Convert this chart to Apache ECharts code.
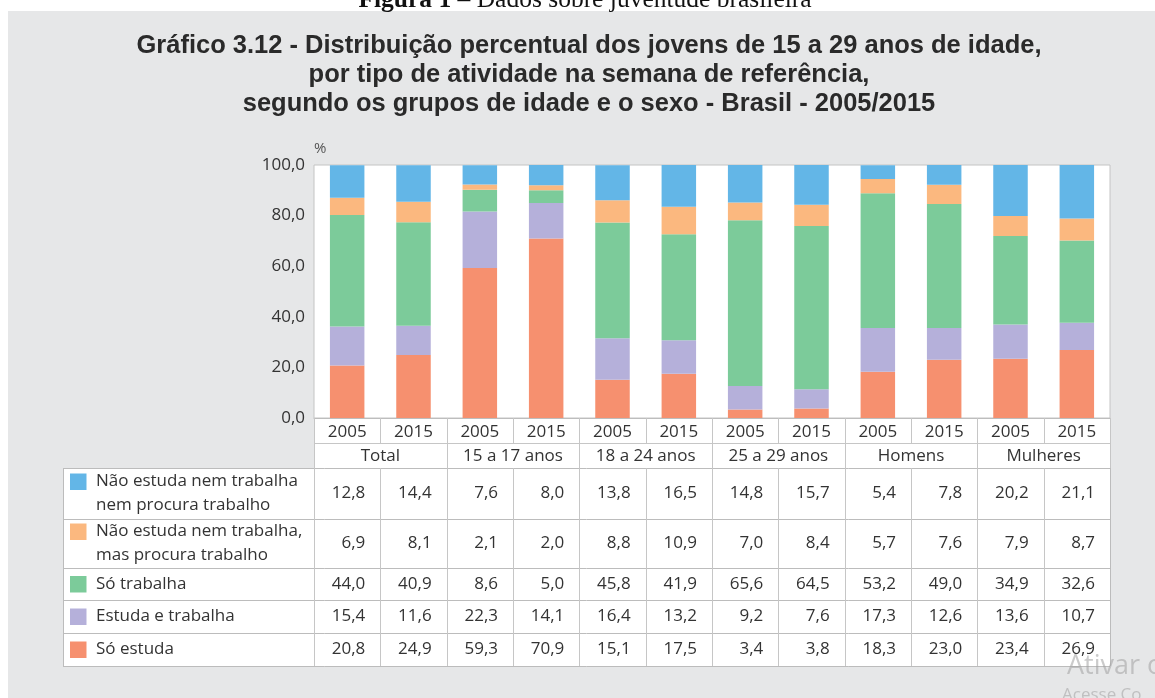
<!DOCTYPE html>
<html>
<head>
<meta charset="utf-8">
<script src="https://cdn.jsdelivr.net/npm/echarts@6/dist/echarts.min.js"></script>
<style>html,body{margin:0;padding:0;background:#fff}#c{width:1155px;height:698px}</style>
</head>
<body>
<div id="c"></div>
<script>
// ---------------- DATA ----------------
const years = ['2005','2015','2005','2015','2005','2015','2005','2015','2005','2015','2005','2015'];
const groups = ['Total','15 a 17 anos','18 a 24 anos','25 a 29 anos','Homens','Mulheres'];
const seriesNames = [
  'Não estuda nem trabalha nem procura trabalho',
  'Não estuda nem trabalha, mas procura trabalho',
  'Só trabalha',
  'Estuda e trabalha',
  'Só estuda'
];
const seriesLabelLines = [
  ['Não estuda nem trabalha','nem procura trabalho'],
  ['Não estuda nem trabalha,','mas procura trabalho'],
  ['Só trabalha'],
  ['Estuda e trabalha'],
  ['Só estuda']
];
const nemProcura     = [12.8,14.4, 7.6, 8.0,13.8,16.5,14.8,15.7, 5.4, 7.8,20.2,21.1];
const procura        = [ 6.9, 8.1, 2.1, 2.0, 8.8,10.9, 7.0, 8.4, 5.7, 7.6, 7.9, 8.7];
const soTrabalha     = [44.0,40.9, 8.6, 5.0,45.8,41.9,65.6,64.5,53.2,49.0,34.9,32.6];
const estudaTrabalha = [15.4,11.6,22.3,14.1,16.4,13.2, 9.2, 7.6,17.3,12.6,13.6,10.7];
const soEstuda       = [20.8,24.9,59.3,70.9,15.1,17.5, 3.4, 3.8,18.3,23.0,23.4,26.9];
const titleLines = [
  'Gráfico 3.12 - Distribuição percentual dos jovens de 15 a 29 anos de idade,',
  'por tipo de atividade na semana de referência,',
  'segundo os grupos de idade e o sexo - Brasil - 2005/2015'
];
const figureCaptionBold = 'Figura 1';
const figureCaptionRest = ' – Dados sobre juventude brasileira';
const yUnit = '%';

// ---------------- STYLE / LAYOUT ----------------
const tableData = [nemProcura, procura, soTrabalha, estudaTrabalha, soEstuda];
const colors = ['#63b6e7','#fbb87f','#7ccb9a','#b5b0da','#f6906f'];
const FONT = '"Open Sans", "Liberation Sans", sans-serif';
const TXT = '#333333';
const LINE = '#c6c6c6';
const FS = 17;
const GL = 314, GR = 1110, GT = 165, GB = 418;
const yearRow = [418, 443], groupRow = [443, 468];
const rowY = [468, 519, 568, 600, 633, 666];
const tableLeft = 63;
const fmt = v => v.toFixed(1).replace('.', ',');

const chart = echarts.init(document.getElementById('c'), null, {renderer: 'canvas'});

const stackOrder = [4, 3, 2, 1, 0];
const series = stackOrder.map(i => ({
  name: seriesNames[i],
  type: 'bar',
  stack: 'total',
  xAxisIndex: 0,
  yAxisIndex: 0,
  barWidth: '52%',
  data: tableData[i],
  itemStyle: {color: colors[i]},
  emphasis: {disabled: true},
  silent: true
}));

chart.setOption({
  animation: false,
  backgroundColor: '#e6e7e8',
  grid: {
    left: GL, top: GT, width: GR - GL, height: GB - GT,
    show: true, backgroundColor: '#ffffff', borderColor: '#c4c4c4', borderWidth: 1
  },
  xAxis: [{
    type: 'category', data: years, position: 'bottom',
    axisLine: {show: true, lineStyle: {color: '#bdbdbd'}},
    axisTick: {show: false},
    axisLabel: {color: TXT, fontFamily: FONT, fontSize: FS, margin: 5, lineHeight: 19, interval: 0}
  }, {
    type: 'category', data: groups, position: 'bottom', offset: 25,
    axisLine: {show: false}, axisTick: {show: false},
    axisLabel: {color: TXT, fontFamily: FONT, fontSize: FS, margin: 4, lineHeight: 19, interval: 0}
  }],
  yAxis: {
    type: 'value', min: 0, max: 100, interval: 20,
    name: yUnit, nameLocation: 'end', nameGap: 9,
    nameTextStyle: {color: '#555', fontFamily: FONT, fontSize: 15, align: 'left'},
    axisLine: {show: false}, axisTick: {show: false}, splitLine: {show: false},
    axisLabel: {color: TXT, fontFamily: FONT, fontSize: FS, margin: 9, formatter: v => fmt(v)}
  },
  series: series
});

// ---------- table & annotations built from the axis ----------
const c0 = chart.convertToPixel({xAxisIndex: 0}, 0);
const c1 = chart.convertToPixel({xAxisIndex: 0}, 1);
const band = c1 - c0;
const colCenter = i => chart.convertToPixel({xAxisIndex: 0}, i);
const colEdge = i => colCenter(0) - band / 2 + i * band;
const px = v => Math.round(v) + 0.5;

const g = [];
// white strips (page outside the grey panel)
g.push({type: 'rect', shape: {x: 0, y: 0, width: 1155, height: 11}, style: {fill: '#fff'}, z: 1, silent: true});
g.push({type: 'rect', shape: {x: 0, y: 0, width: 8, height: 698}, style: {fill: '#fff'}, z: 1, silent: true});
// figure caption (cut at top)
g.push({type: 'text', x: 585, y: 0, z: 2, silent: true, style: {
  text: '{b|' + figureCaptionBold + '}{r|' + figureCaptionRest + '}',
  align: 'center', verticalAlign: 'middle',
  rich: {
    b: {fontFamily: '"Liberation Serif", serif', fontWeight: 'bold', fontSize: 25.5, fill: '#111'},
    r: {fontFamily: '"Liberation Serif", serif', fontSize: 25.5, fill: '#111'}
  }
}});
// title with condensed look via horizontal scale
const cv = document.createElement('canvas').getContext('2d');
const titleFont = 'bold 25px "Liberation Sans", Arial, sans-serif';
cv.font = titleFont;
const w1 = cv.measureText(titleLines[0]).width;
const sx = 905 / w1;
const titleY = [46, 75, 104];
titleLines.forEach((t, k) => {
  g.push({type: 'text', x: 589, y: titleY[k], scaleX: sx, z: 2, silent: true, style: {
    text: t, align: 'center', verticalAlign: 'middle',
    fontFamily: '"Liberation Sans", Arial, sans-serif', fontWeight: 'bold', fontSize: 25, fill: '#2a2a2a'
  }});
});
// table backgrounds
g.push({type: 'rect', shape: {x: GL, y: yearRow[0], width: GR - GL, height: groupRow[1] - yearRow[0]}, style: {fill: '#fff'}, z: -1, silent: true});
g.push({type: 'rect', shape: {x: tableLeft, y: rowY[0], width: GR - tableLeft, height: rowY[5] - rowY[0]}, style: {fill: '#fff'}, z: -1, silent: true});
const hline = (x1, x2, y, col) => g.push({type: 'line', z: 3, silent: true, shape: {x1: x1, y1: px(y), x2: x2, y2: px(y)}, style: {stroke: col || LINE, lineWidth: 1}});
const vline = (x, y1, y2, col) => g.push({type: 'line', z: 3, silent: true, shape: {x1: px(x), y1: y1, x2: px(x), y2: y2}, style: {stroke: col || LINE, lineWidth: 1}});
hline(GL, GR, yearRow[1]);
rowY.forEach(y => hline(tableLeft, GR, y, '#bcbcbc'));
vline(tableLeft, rowY[0], rowY[5], '#bcbcbc');
for (let i = 0; i <= years.length; i++) {
  const x = colEdge(i);
  vline(x, yearRow[0], yearRow[1]);
  if (i % 2 === 0) vline(x, groupRow[0], groupRow[1]);
  vline(x, rowY[0], rowY[5], i === years.length ? '#bcbcbc' : LINE);
}
// legend squares, labels and values
tableData.forEach((arr, r) => {
  const top = rowY[r], bot = rowY[r + 1], mid = (top + bot) / 2;
  const lines = seriesLabelLines[r];
  const lh = 24;
  const firstY = mid - (lines.length - 1) * lh / 2;
  g.push({type: 'rect', z: 3, silent: true, shape: {x: 70, y: firstY - 8, width: 16.5, height: 16.5}, style: {fill: colors[r]}});
  lines.forEach((t, k) => {
    g.push({type: 'text', z: 3, silent: true, x: 96, y: firstY + k * lh, style: {
      text: t, align: 'left', verticalAlign: 'middle', fontFamily: FONT, fontSize: FS, fill: TXT
    }});
  });
  arr.forEach((v, i) => {
    g.push({type: 'text', z: 3, silent: true, x: colEdge(i + 1) - 15, y: mid, style: {
      text: fmt(v), align: 'right', verticalAlign: 'middle', fontFamily: FONT, fontSize: FS, fill: TXT
    }});
  });
});
// screen watermark
g.push({type: 'text', z: 4, silent: true, x: 1067, y: 666, style: {
  text: 'Ativar o', align: 'left', verticalAlign: 'middle', fontFamily: '"Open Sans", sans-serif', fontSize: 27, fill: 'rgba(160,160,160,0.55)'
}});
g.push({type: 'text', z: 4, silent: true, x: 1062, y: 695, style: {
  text: 'Acesse Co', align: 'left', verticalAlign: 'middle', fontFamily: '"Open Sans", sans-serif', fontSize: 17, fill: 'rgba(160,160,160,0.55)'
}});

chart.setOption({graphic: g});
</script>
</body>
</html>
